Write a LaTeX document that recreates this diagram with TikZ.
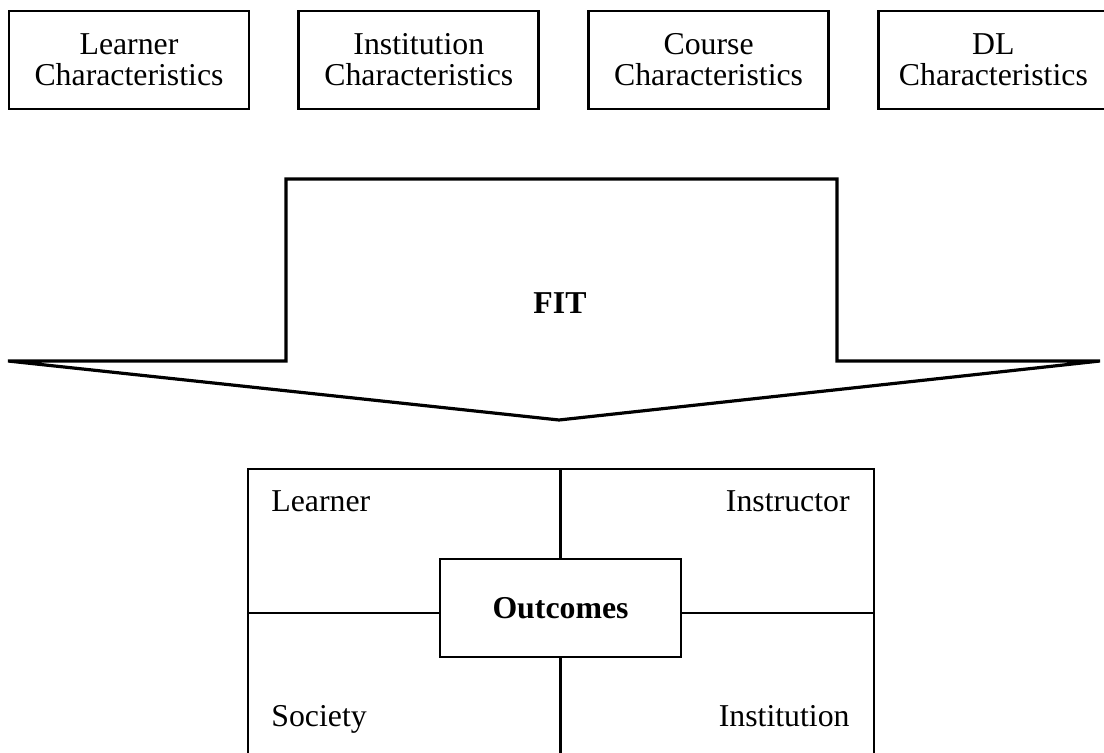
\documentclass[tikz,border=0pt]{standalone}
\usepackage{fontspec}
\setmainfont{Liberation Serif}
\usetikzlibrary{positioning}

\tikzset{
  charbox/.style={draw, line width=1.4pt, minimum width=120pt, minimum height=49pt, align=center, inner sep=0pt},
  outbox/.style={draw, line width=1.4pt, minimum width=120.5pt, minimum height=49pt, inner sep=0pt},
  quadlabel/.style={inner sep=0pt}
}

\begin{document}
\begin{tikzpicture}[x=0.5pt, y=-0.5pt, line width=1.4pt, font=\fontsize{15.9}{15.5}\selectfont]
\useasboundingbox (0,0) rectangle (1104,753);
\node [charbox] (learner) at (129,60) {Learner\\Characteristics};
\node [charbox, right=23.5pt of learner] (institution) {Institution\\Characteristics};
\node [charbox, right=23.5pt of institution] (course) {Course\\Characteristics};
\node [charbox, right=23.5pt of course, minimum width=115pt] (dl) {DL\\Characteristics};
\draw [line width=1.6pt, line join=miter] (8,361) -- (286,361) -- (286,179) -- (837,179) -- (837,361) -- (1100,361) -- (559,420) -- cycle;
\node [font=\fontsize{15.9}{15}\selectfont\bfseries] (fit) at (560,303) {FIT};
\coordinate (tl) at (248,469);
\coordinate (br) at (874,770);
\draw (tl) rectangle (br);
\node [outbox] (outc) at (560.5,608) {\textbf{Outcomes}};
\coordinate (mid) at (560,613);
\draw (outc.north) -- (outc.north |- tl);
\draw (outc.south) -- (outc.south |- br);
\draw (outc.west |- mid) -- (tl |- mid);
\draw (outc.east |- mid) -- (br |- mid);
\node [quadlabel, anchor=base west] (lrn) at (270,512) {Learner};
\node [quadlabel, anchor=base east] (ins) at (851,512) {Instructor};
\node [quadlabel, anchor=base west] (soc) at (270,726) {Society};
\node [quadlabel, anchor=base east] (inst) at (851,726) {Institution};
\end{tikzpicture}
\end{document}
